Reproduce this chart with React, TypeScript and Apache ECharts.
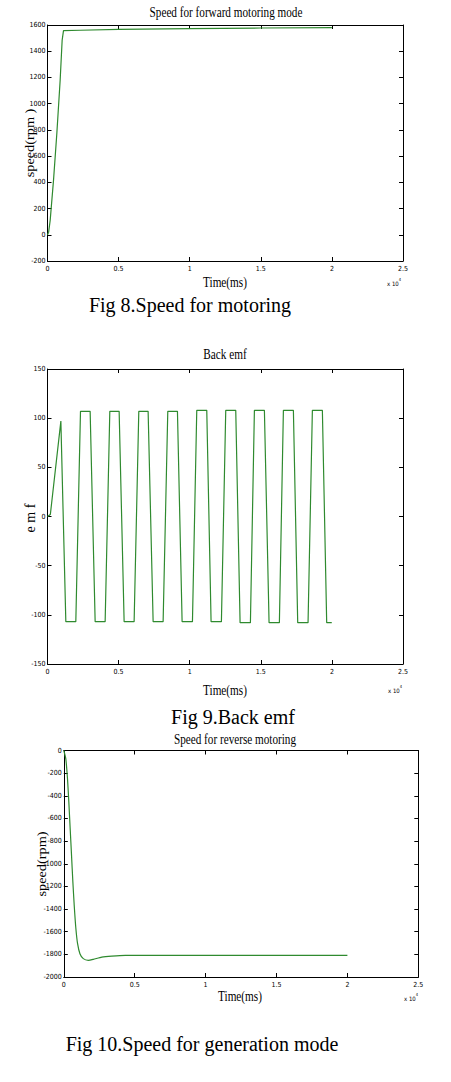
import React, { useEffect, useRef } from "react";
import * as echarts from "echarts";

// ---- Data ----
const xTickLabels = ["0", "0.5", "1", "1.5", "2", "2.5"];

// Fig 8: forward motoring speed
const fwdTime = [0, 80, 188, 422, 656, 891, 1031, 1125, 2300, 5000, 10000, 15000, 20000];
const fwdSpeed = [0, 20, 110, 415, 772, 1180, 1485, 1557, 1560, 1566, 1572, 1577, 1580];

// Fig 9: back emf
const emfTime = [
  0, 200, 940, 1289, 1991, 2320, 2999, 3351, 4054, 4382, 5038, 5389, 6092, 6420, 7076,
  7428, 8131, 8459, 9138, 9466, 10193, 10497, 11200, 11504, 12230, 12535, 13238, 13543,
  14269, 14550, 15253, 15581, 16307, 16589, 17292, 17596, 18323, 18627, 19330, 19634, 19991,
];
const emfValue = [
  0, 2, 97, -107, -107, 107, 107, -107, -107, 107, 107, -107, -107, 107, 107,
  -107, -107, 107, 107, -107, -107, 108, 108, -107, -107, 108, 108, -108,
  -108, 108, 108, -108, -108, 108, 108, -108, -108, 108, 108, -108, -108,
];

// Fig 10: reverse motoring speed
const revTime = [0, 142, 261, 355, 450, 545, 640, 735, 853, 972, 1137, 1374, 1730, 2085, 2678, 3389, 4336, 5047, 20000];
const revSpeed = [0, -74, -250, -456, -691, -926, -1162, -1368, -1574, -1706, -1794, -1838, -1853, -1844, -1824, -1815, -1809, -1809, -1809];

const pairs = (xs: number[], ys: number[]) => xs.map((x, i) => [x, ys[i]]);

const LINE = "#2f8a2f";
const TICK_FONT = "'Liberation Sans Narrow', 'DejaVu Sans Condensed', Arial, sans-serif";
const SERIF = "'Liberation Serif', 'Times New Roman', serif";

type GridDef = { left: number; top: number; width: number; height: number; min: number; max: number; interval: number };

const grids: GridDef[] = [
  { left: 47.5, top: 25, width: 355.5, height: 236, min: -200, max: 1600, interval: 200 },
  { left: 47.5, top: 369, width: 355.5, height: 295, min: -150, max: 150, interval: 50 },
  { left: 63.8, top: 750.5, width: 354.5, height: 226.5, min: -2000, max: 0, interval: 200 },
];

export default function App() {
  const ref = useRef<HTMLDivElement>(null);
  useEffect(() => {
    if (!ref.current) return;
    const chart = echarts.init(ref.current, null, { renderer: "svg" });

    const xAxes: any[] = [];
    const yAxes: any[] = [];
    grids.forEach((g, i) => {
      const common = {
        gridIndex: i,
        type: "value",
        min: 0,
        max: 25000,
        interval: 5000,
        splitLine: { show: false },
        axisLine: { show: true, onZero: false, lineStyle: { color: "#000", width: 1 } },
        axisTick: { show: true, inside: true, length: 4, lineStyle: { color: "#000" } },
      };
      xAxes.push({
        ...common,
        position: "bottom",
        axisLabel: {
          show: true,
          color: "#000",
          fontSize: 7,
          fontFamily: TICK_FONT,
          margin: 4,
          formatter: (v: number) => xTickLabels[Math.round(v / 5000)] ?? "",
        },
      });
      xAxes.push({ ...common, position: "top", axisLabel: { show: false } });
      const ycommon = {
        gridIndex: i,
        type: "value",
        min: g.min,
        max: g.max,
        interval: g.interval,
        splitLine: { show: false },
        axisLine: { show: true, onZero: false, lineStyle: { color: "#000", width: 1 } },
        axisTick: { show: true, inside: true, length: 4, lineStyle: { color: "#000" } },
      };
      yAxes.push({
        ...ycommon,
        position: "left",
        axisLabel: {
          show: true,
          color: "#000",
          fontSize: 7,
          fontFamily: TICK_FONT,
          margin: 2,
          formatter: (v: number) => String(v),
        },
      });
      yAxes.push({ ...ycommon, position: "right", axisLabel: { show: false } });
    });

    const seriesData = [pairs(fwdTime, fwdSpeed), pairs(emfTime, emfValue), pairs(revTime, revSpeed)];
    const series = seriesData.map((d, i) => ({
      type: "line",
      xAxisIndex: i * 2,
      yAxisIndex: i * 2,
      data: d,
      smooth: i === 2 ? 0.2 : false,
      showSymbol: false,
      symbol: "none",
      lineStyle: { color: LINE, width: 1.2 },
    }));

    const txt = (x: number, y: number, text: string, fontSize: number, scaleX = 1, rotation = 0, align = "center") => ({
      type: "text",
      x,
      y,
      scaleX,
      rotation,
      style: {
        text,
        fontSize,
        fontFamily: SERIF,
        fill: "#000",
        align,
        verticalAlign: "middle",
      },
    });

    const mult = (x: number, y: number) => ({
      type: "text",
      x,
      y,
      style: {
        text: "{a|x 10}{b|4}",
        rich: {
          a: { fontSize: 6, fontFamily: TICK_FONT, fill: "#000", verticalAlign: "bottom" },
          b: { fontSize: 4, fontFamily: TICK_FONT, fill: "#000", verticalAlign: "top", padding: [0, 0, 5, 0] },
        },
        align: "center",
        verticalAlign: "middle",
      },
    });

    const graphic = [
      txt(226, 13, "Speed for forward motoring mode", 14, 0.8),
      txt(225, 282, "Time(ms)", 15, 0.75),
      mult(394, 282),
      txt(30, 143, "speed(rpm )", 13, 1.1, Math.PI / 2),
      txt(190, 305, "Fig 8.Speed for motoring", 20),

      txt(225, 354, "Back emf", 15, 0.75),
      txt(225, 690, "Time(ms)", 15, 0.75),
      mult(395, 689),
      txt(30, 518, "e m f", 14, 1, Math.PI / 2),
      txt(233, 717, "Fig 9.Back emf", 20),

      txt(235, 740, "Speed for reverse motoring", 14, 0.8),
      txt(240, 996, "Time(ms)", 15, 0.75),
      mult(411, 997),
      txt(42, 864, "speed(rpm)", 13, 1.1, Math.PI / 2),
      txt(202, 1044, "Fig 10.Speed for generation mode", 20),
    ];

    chart.setOption({
      animation: false,
      backgroundColor: "#fff",
      grid: grids.map((g) => ({ left: g.left, top: g.top, width: g.width, height: g.height, containLabel: false })),
      xAxis: xAxes,
      yAxis: yAxes,
      series,
      graphic,
    });
    return () => chart.dispose();
  }, []);

  return (
    <div
      ref={ref}
      style={{ position: "absolute", left: 0, top: 0, width: 451, height: 1082, background: "#fff" }}
    />
  );
}
